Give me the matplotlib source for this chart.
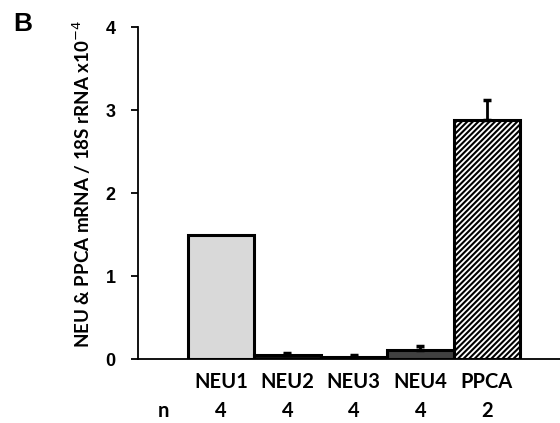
import numpy as np
import matplotlib.pyplot as plt

genes = ["NEU1", "NEU2", "NEU3", "NEU4", "PPCA"]
n_counts = ["4", "4", "4", "4", "2"]
means = [1.50, 0.05, 0.03, 0.11, 2.88]
errs = [0.0, 0.025, 0.015, 0.05, 0.24]
colors = ["#d9d9d9", "#111111", "#111111", "#404040", "white"]
hatches = ["", "", "", "", "//////"]

plt.rcParams['hatch.linewidth'] = 1.5

fig = plt.figure(figsize=(5.6, 4.23), dpi=100)
ax = fig.add_axes([0.246, 0.151, 0.754, 0.785])

x = np.arange(len(genes))
bars = ax.bar(x, means, width=1.0, color=colors, edgecolor="black", linewidth=2.2)
for b, h in zip(bars, hatches):
    b.set_hatch(h)

# only bars with a visible error get a whisker
has_err = [i for i, e in enumerate(errs) if e > 0]
ax.errorbar(x[has_err], [means[i] for i in has_err],
            yerr=[[0] * len(has_err), [errs[i] for i in has_err]], fmt="none",
            ecolor="black", elinewidth=2, capsize=3, capthick=2.5)

ax.set_xlim(-1.25, 5.1)
ax.set_ylim(0, 4)
ax.set_yticks([0, 1, 2, 3, 4])
ax.spines["top"].set_visible(False)
ax.spines["right"].set_visible(False)
ax.spines["left"].set_linewidth(1.3)
ax.spines["bottom"].set_linewidth(1.3)
ax.tick_params(axis="y", direction="out", length=5, width=1.3, labelsize=13, pad=11)
for lab in ax.get_yticklabels():
    lab.set_fontweight("bold")
    lab.set_family("Liberation Sans")

ax.set_xticks([])
for xi, g, n in zip(x, genes, n_counts):
    ax.text(xi, -0.27, g, ha="center", va="center", fontsize=14.5,
            fontweight="bold", family="Lato")
    ax.text(xi, -0.63, n, ha="center", va="center", fontsize=14.5,
            fontweight="bold", family="Lato")
ax.text(-0.86, -0.63, "n", ha="center", va="center", fontsize=14.5,
        fontweight="bold", family="Lato", clip_on=False)

ax.set_ylabel("NEU & PPCA mRNA / 18S rRNA x10$^{-4}$", fontsize=13.5,
              fontweight="bold", family="Lato")
ax.yaxis.set_label_coords(-0.105, 0.527)

fig.text(0.041, 0.943, "B", fontsize=19, fontweight="bold",
         family="Liberation Sans", va="center", ha="center")

fig.savefig("out.png", dpi=100)
